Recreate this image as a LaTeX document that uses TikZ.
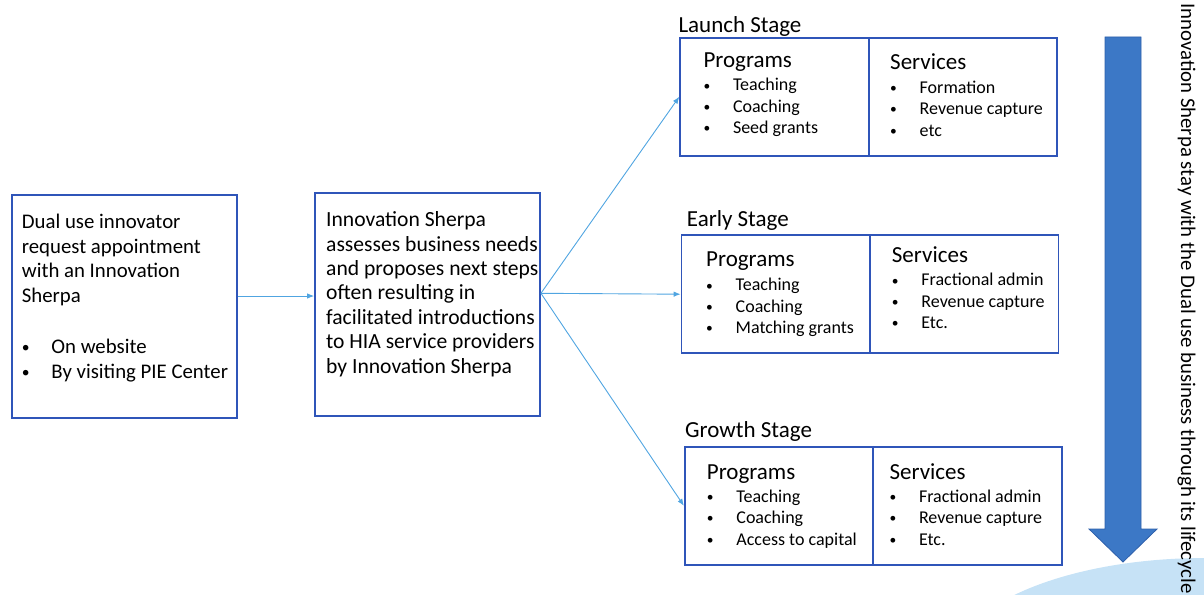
\documentclass[tikz,border=0pt]{standalone}
\usepackage{fontspec}
\setmainfont{Carlito}
\usetikzlibrary{arrows.meta}
\definecolor{boxblue}{RGB}{47,85,185}
\definecolor{linkblue}{RGB}{80,165,225}
\definecolor{flowblue}{RGB}{60,120,198}
\definecolor{flowedge}{RGB}{45,95,170}
\definecolor{paleblue}{RGB}{198,226,246}
\newcommand{\bul}{\makebox[29.5pt][l]{\raisebox{0.1ex}{\scalebox{0.75}{\textbullet}}}}

\begin{document}
\begin{tikzpicture}[x=1pt,y=-1pt]
			\tikzstyle{every node}+=[inner sep=0pt]
			\tikzstyle{box}=[draw=boxblue, line width=1.8pt]
			\tikzstyle{stagebox}=[box, minimum width=377pt, minimum height=118pt]
			\tikzstyle{link}=[draw=linkblue, line width=0.9pt, -{Latex[length=7pt,width=5.5pt]}]
			\tikzstyle{body}=[anchor=base west, align=left, font=\fontsize{20.8}{24.5}\selectfont]
			\tikzstyle{title}=[anchor=base west, font=\fontsize{23}{27}\selectfont]
			\tikzstyle{items}=[anchor=base west, align=left, font=\fontsize{18}{21.2}\selectfont]
			\useasboundingbox (0,0) rectangle (1204,594);
			\begin{scope}
			\clip (0,0) rectangle (1204,594);
			\fill [paleblue] (1205,668) ellipse [x radius=255pt, y radius=110pt];
			\end{scope}
			\node [box, minimum width=225pt, minimum height=223pt] (req) at (124.2,306.5) {};
			\node [body] (reqtext) at (21.7,378) {Dual use innovator\\request appointment\\with an Innovation\\Sherpa\\[26.7pt]\bul On website\\\bul By visiting PIE Center};
			\node [box, minimum width=225pt, minimum height=223pt] (assess) at (427.5,304.3) {};
			\node [body, font=\fontsize{21.6}{24.45}\selectfont] (assesstext) at (326,373.3) {Innovation Sherpa\\assesses business needs\\and proposes next steps\\often resulting in\\facilitated introductions\\to HIA service providers\\by Innovation Sherpa};
			\node [stagebox] (launch) at (868.7,96.7) {};
			\draw [box] (launch.north) -- (launch.south);
			\node [title] (launchtitle) at (678.3,32.3) {Launch Stage};
			\node [title] (launchprog) at (703.3,67.7) {Programs};
			\node [items] (launchproglist) at (703.3,133.3) {\bul Teaching\\\bul Coaching\\\bul Seed grants};
			\node [title] (launchserv) at (890,69.3) {Services};
			\node [items] (launchservlist) at (890,136) {\bul Formation\\\bul Revenue capture\\\bul etc};
			\node [stagebox] (early) at (870,294.2) {};
			\draw [box] (early.north) -- (early.south);
			\node [title] (earlytitle) at (686.7,226) {Early Stage};
			\node [title] (earlyprog) at (706,266.7) {Programs};
			\node [items] (earlyproglist) at (706,333.3) {\bul Teaching\\\bul Coaching\\\bul Matching grants};
			\node [title] (earlyserv) at (891.7,262.7) {Services};
			\node [items] (earlyservlist) at (891.7,328.3) {\bul Fractional admin\\\bul Revenue capture\\\bul Etc.};
			\node [stagebox] (growth) at (873.3,505.8) {};
			\draw [box] (growth.north) -- (growth.south);
			\node [title] (growthtitle) at (685,437.7) {Growth Stage};
			\node [title] (growthprog) at (706.7,479) {Programs};
			\node [items] (growthproglist) at (706.7,545) {\bul Teaching\\\bul Coaching\\\bul Access to capital};
			\node [title] (growthserv) at (889.3,479) {Services};
			\node [items] (growthservlist) at (889.3,545) {\bul Fractional admin\\\bul Revenue capture\\\bul Etc.};
			\draw [link] ([yshift=10.5pt]req.east) -- ([yshift=10.5pt]req.east -| assess.west);
			\draw [link] ([yshift=11pt]assess.east) -- (launch.west);
			\draw [link] ([yshift=11pt]assess.east) -- (early.west);
			\draw [link] ([yshift=11pt]assess.east) -- (growth.west);
			\filldraw [fill=flowblue, draw=flowedge, line width=0.8pt] (1105,37) -- (1141,37) -- (1141,529) -- (1157,529) -- (1123,562) -- (1089,529) -- (1105,529) -- cycle;
			\node [rotate=-90, anchor=base west, font=\fontsize{20.8}{25}\selectfont] (lifecycle) at (1181,3) {Innovation Sherpa stay with the Dual use business through its lifecycle};
\end{tikzpicture}
\end{document}
